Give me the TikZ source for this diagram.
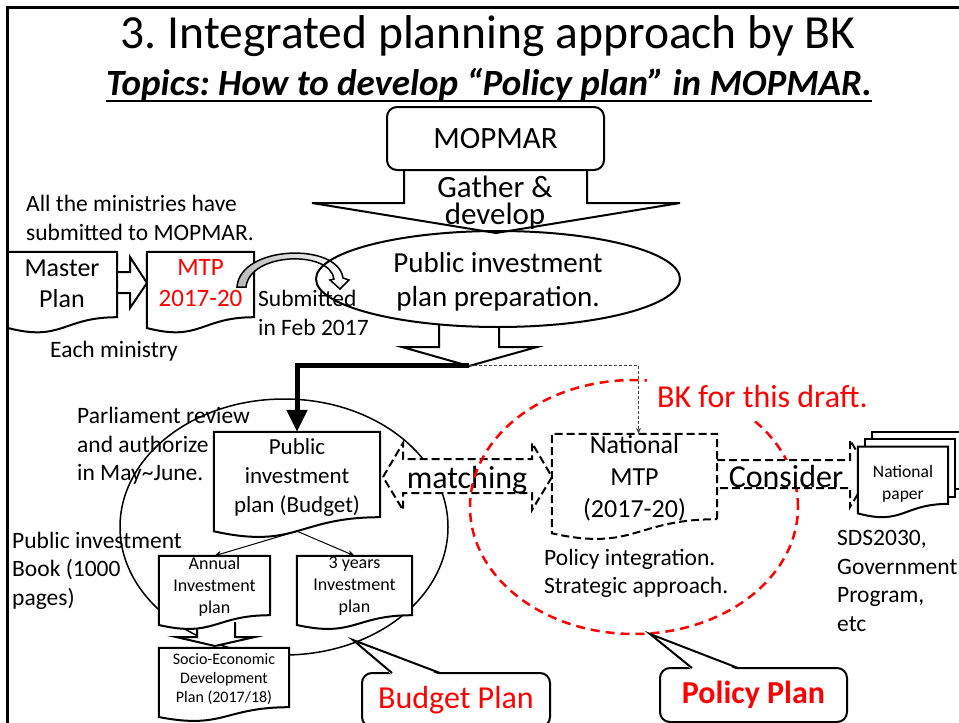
\documentclass[tikz,border=0pt]{standalone}
\usepackage{fontspec}
\setmainfont{Carlito}
\usetikzlibrary{shapes.geometric,arrows.meta,calc}
\frenchspacing

\newcommand{\sz}[2]{\fontsize{#1}{#2}\selectfont}
\newcommand{\docnode}[5][]{%
  \node (#2) [minimum width=#4, minimum height=#5] at (#3) {};
  \filldraw[fill=white, line width=2pt, #1] (#2.south east) -- (#2.north east)
    -- (#2.north west) -- ($(#2.south west)!-0.165!(#2.north west)$)
    .. controls ($(#2.south)!-0.38!(#2.north)$) and (#2.south) .. (#2.south east) -- cycle;}

\begin{document}
\begin{tikzpicture}[x=1pt, y=-1pt]
\tikzstyle{every node}=[inner sep=0pt]
\tikzstyle{blk}=[draw, fill=white, line width=2pt]
\tikzstyle{dsh}=[blk, dash pattern=on 8pt off 4pt]
\tikzstyle{lbl}=[anchor=west, align=left, font={\sz{23.5}{28.5}}]
\useasboundingbox (0,0) rectangle (959,723);

\draw[line width=3pt] (7,723) -- (7,7) -- (959,7);
\node(ttl)[anchor=base, font={\sz{47.5}{50}}]                 at (488, 48) {3. Integrated planning approach by BK};
\node(sub)[anchor=base, font={\sz{37}{40}\bfseries\itshape}] at (489, 95) {Topics: How to develop “Policy plan” in MOPMAR.};
\draw[line width=2pt] ([yshift=-6pt]sub.base west) -- ([yshift=-6pt]sub.base east);

\draw[blk] (404,160) -- (404,203) -- (312,203) -- (496,233) -- (680,203) -- (587,203) -- (587,160);
\node(mop)[blk, rounded corners=10pt, minimum width=217pt, minimum height=63pt, font={\sz{31}{36}}] at (495.5,138.5) {MOPMAR};
\node(gat)[align=center, font={\sz{31}{27}}] at (495,203) {Gather \&\\develop};
\draw[blk] (439,324) -- (439,347) -- (402,347) -- (469,366) -- (537,347) -- (499,347) -- (499,327);
\coordinate (tip) at (469,365);

\node(all)[lbl] at (26,218) {All the ministries have\\submitted to MOPMAR.};
\draw[blk] (110,272) -- (130,272) -- (130,257) -- (147,283) -- (130,308) -- (130,293) -- (110,293);
\docnode{mp}{62.5,284.5}{109pt}{65pt}
\docnode{mtp}{200.5,284.5}{107pt}{65pt}
\node(mpt)[align=center, font={\sz{26}{31}}]            at (62,283.5)  {Master\\Plan};
\node(mtpt)[align=center, text=red, font={\sz{25}{31}}] at (200.5,283.5) {MTP\\2017-20};
\node(each)[anchor=base west, font={\sz{23.5}{28}}]      at (50,357)    {Each ministry};
\node(sbm)[lbl] at (258,313) {Submitted\\in Feb 2017};

\draw[line width=1.5pt, left color=gray!55, middle color=white, right color=white]
  (237,287) .. controls (240,245) and (338,242) .. (343,278) -- (349,280) -- (340,289)
  -- (330,280) -- (334,279) .. controls (330,250) and (250,252) .. (246,287) -- cycle;
\node(pip)[draw, ellipse, line width=2pt, minimum width=364pt, minimum height=96pt] at (498,279) {};
\node(pipt)[align=center, font={\sz{29}{34}}] at (498,282) {Public investment\\plan preparation.};

\node(parl)[lbl] at (77,446) {Parliament review\\and authorize\\in May\textasciitilde June.};
\node(bgt)[draw, ellipse, line width=1.5pt, minimum width=328pt, minimum height=256pt] at (284,527) {};
\draw[blk] (197,622) -- (197,637) -- (176,637) -- (215,646) -- (255,637) -- (235,637) -- (235,622);
\docnode{bud}{297,474.5}{166pt}{85pt}
\docnode{ann}{214.5,585.5}{111pt}{59pt}
\docnode{thr}{354.5,585.5}{115pt}{59pt}
\docnode{soc}{224,677.5}{130pt}{59pt}
\node(budt)[align=center, font={\sz{23}{29}}] at (297,477.5)   {Public\\investment\\plan (Budget)};
\node(annt)[align=center, font={\sz{18}{22}}] at (214.5,586.5) {Annual\\Investment\\plan};
\node(thrt)[align=center, font={\sz{18}{22}}] at (354.5,586.5) {3 years\\Investment\\plan};
\node(soct)[align=center, font={\sz{16}{19}}] at (224,679)     {Socio-Economic\\Development\\Plan (2017/18)};
\draw[line width=5pt, -{Triangle[length=22pt, width=20pt]}] (tip) -| (bud.north);
\draw[line width=1pt, -{Stealth[length=7pt, width=6pt]}] ([yshift=-14pt]bud.south) -- (ann.north);
\draw[line width=1pt, -{Stealth[length=7pt, width=6pt]}] ([yshift=-14pt]bud.south) -- (thr.north);
\node(book)[lbl] at (12,570.5) {Public investment\\Book (1000\\pages)};

\draw[dsh] (383,477) -- (403,443) -- (403,459) -- (532,459) -- (532,443) -- (552,477)
  -- (532,510) -- (532,493) -- (403,493) -- (403,510) -- cycle;
\node(mat)[anchor=base, font={\sz{32}{38}}] at (467,488) {matching};
\node(pol)[draw=red, ellipse, line width=2.5pt, dash pattern=on 9pt off 6pt, minimum width=328pt, minimum height=254pt] at (634,507) {};
\node(bk)[anchor=base west, fill=white, text=red, inner xsep=10pt, inner ysep=6pt, text height=24pt, text depth=8pt, font={\sz{32}{38}}] at (647,407) {BK for this draft.};

\draw[dsh] (717,460) -- (850,460) -- (850,440) -- (870,474) -- (850,507) -- (850,488) -- (717,488);
\node(con)[anchor=base, font={\sz{32}{38}}] at (786,487) {Consider};
\docnode[dash pattern=on 8pt off 4pt]{nmtp}{634.5,476.5}{165pt}{85pt}
\node(nmtpt)[align=center, font={\sz{26}{32}}] at (634.5,478.5) {National\\MTP\\(2017-20)};
\draw[gray!50!black, line width=1pt, dash pattern=on 3pt off 2pt, -{Stealth[length=6pt, width=5pt]}] (tip) -| ([xshift=4pt]nmtp.north);

\filldraw[fill=white, line width=2pt] (872,432) -- (963,432) -- (963,489) -- (955,489) -- (955,439) -- (872,439) -- cycle;
\filldraw[fill=white, line width=2pt] (865,439) -- (955,439) -- (955,497) -- (948,497) -- (948,447) -- (865,447) -- cycle;
\docnode{np}{903,475.2}{90pt}{57pt}
\node(npt)[align=center, font={\sz{17.5}{22}}] at (903,484) {National\\paper};

\node(pint)[lbl] at (544,573.5) {Policy integration.\\Strategic approach.};
\node(sds)[lbl]  at (837,581)   {SDS2030,\\Government\\Program,\\etc};

\node(bp)[blk, rounded corners=10pt, minimum width=188pt, minimum height=54pt, text=red, font={\sz{32}{38}}] at (456,700) {Budget Plan};
\fill[white] (392,675) -- (353,640) -- (440,675) -- cycle;
\draw[line width=2pt] (392,673) -- (353,640) -- (440,673);
\node(pp)[blk, rounded corners=10pt, minimum width=187pt, minimum height=54pt, text=red, font={\sz{32}{38}\bfseries}] at (753.5,695) {Policy Plan};
\fill[white] (692,670) -- (650,634) -- (738,670) -- cycle;
\draw[line width=2pt] (692,668) -- (650,634) -- (738,668);

\end{tikzpicture}
\end{document}
